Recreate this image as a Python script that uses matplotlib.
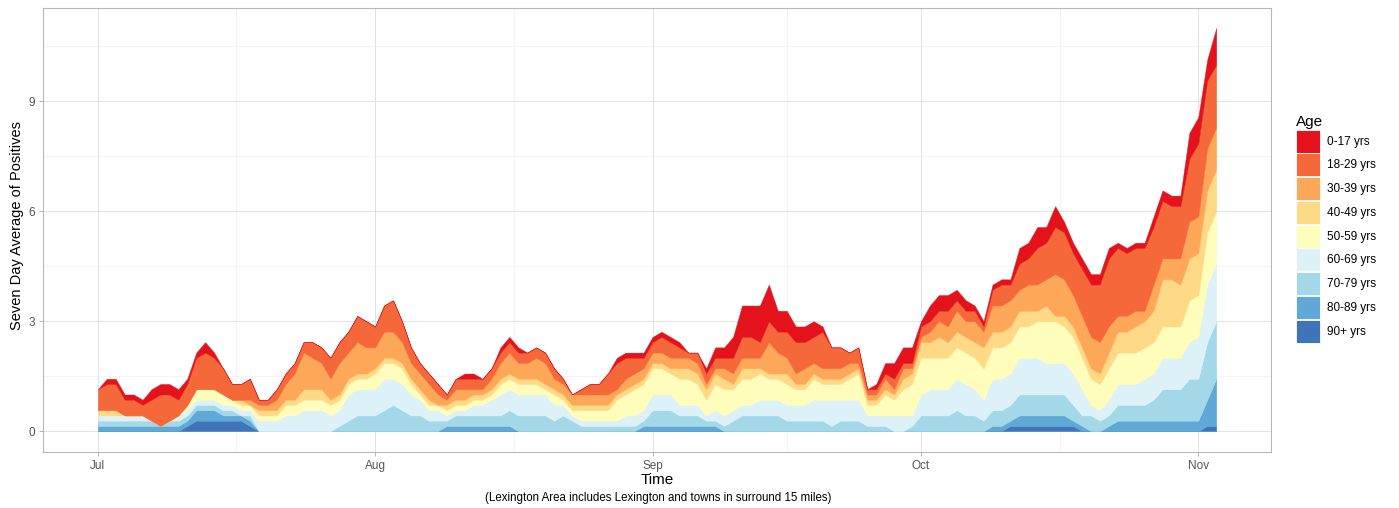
import numpy as np
import pandas as pd
import matplotlib
matplotlib.use("Agg")
import matplotlib.pyplot as plt
import matplotlib.dates as mdates
from matplotlib.patches import Patch

plt.rcParams['font.family'] = ['Liberation Sans', 'DejaVu Sans']

# ---------------- data (7-day totals of positives per age group; plotted as /7 average) -------------
start_date = "2020-07-01"
n_days = 126  # Jul 1 .. Nov 3

age_labels = ["0-17 yrs", "18-29 yrs", "30-39 yrs", "40-49 yrs", "50-59 yrs",
              "60-69 yrs", "70-79 yrs", "80-89 yrs", "90+ yrs"]

age_90p = [0,0,0,0,0,0,0,0,0,0, 1,2,2,2,2,2,2,1,0,0, 0,0,0,0,0,0,0,0,0,0,
           0,0,0,0,0,0,0,0,0,0, 0,0,0,0,0,0,0,0,0,0, 0,0,0,0,0,0,0,0,0,0,
           0,0,0,0,0,0,0,0,0,0, 0,0,0,0,0,0,0,0,0,0, 0,0,0,0,0,0,0,0,0,0,
           0,0,0,0,0,0,0,0,0,0, 0,0,1,1,1,1,1,1,1,1, 0,0,0,0,0,0,0,0,0,0,
           0,0,0,0,1,1]
age_80_89 = [1,1,1,1,1,1,1,1,1,1, 1,2,2,2,1,1,1,1,0,0, 0,0,0,0,0,0,0,0,0,0,
             0,0,0,0,0,0,0,0,0,1, 1,1,1,1,1,1,1,0,0,0, 0,0,0,0,0,0,0,0,0,0,
             0,1,1,1,1,1,1,1,1,1, 0,0,0,0,0,0,0,0,0,0, 0,0,0,0,0,0,0,0,0,0,
             0,0,0,0,0,0,0,0,0,0, 1,1,1,2,2,2,2,2,2,1, 1,0,0,1,2,2,2,2,2,2,
             2,2,2,2,5,9]
age_70_79 = [1,1,1,1,1,1,1,0,1,1, 1,1,1,1,1,1,0,1,0,0, 0,0,0,0,0,0,0,1,2,3,
             3,3,4,5,4,3,3,2,2,1, 2,2,2,2,2,2,3,3,3,3, 3,2,3,2,1,1,1,1,1,1,
             1,1,3,3,3,2,2,2,1,1, 1,2,3,3,3,3,3,2,2,2, 2,2,1,2,2,2,1,1,1,0,
             0,1,3,3,3,3,4,3,3,2, 3,3,3,4,4,4,4,4,4,3, 2,3,2,2,3,3,3,3,4,6,
             6,6,8,8,11,11]
age_60_69 = [1,1,1,1,1,1,0,0,0,1, 1,1,1,1,1,1,1,1,2,2, 2,3,3,4,4,4,3,3,5,5,
             5,5,6,5,5,4,3,2,2,1, 1,1,2,2,3,4,4,4,4,4, 4,3,2,1,1,1,1,1,1,2,
             2,2,3,3,3,2,2,2,1,2, 2,2,2,2,3,3,3,3,3,3, 4,4,5,4,4,4,2,2,2,3,
             3,2,4,5,5,5,6,6,5,4, 6,6,6,7,7,7,6,6,6,6, 5,2,2,3,4,4,4,5,5,6,
             6,6,7,8,11,11]
age_50_59 = [0,0,0,0,0,0,0,0,0,0, 1,2,2,2,2,1,1,1,1,1, 1,2,2,2,2,2,2,2,2,2,
             2,3,3,3,3,2,1,1,1,1, 1,1,1,1,1,2,2,2,2,2, 1,2,1,1,2,2,2,2,4,4,
             5,5,5,5,4,5,5,4,3,5, 5,4,5,5,5,4,4,4,3,3, 4,3,3,3,4,5,2,2,4,3,
             5,6,7,6,6,6,6,6,6,6, 6,6,6,6,6,7,8,8,7,7, 6,5,5,6,6,6,6,6,6,6,
             6,6,8,8,10,10]
age_40_49 = [1,1,1,0,0,0,0,0,0,0, 0,0,0,0,0,0,1,0,1,1, 1,1,1,2,2,2,1,1,1,1,
             1,1,1,1,1,1,1,1,0,1, 1,1,1,1,1,1,1,1,1,1, 1,1,1,1,1,1,1,1,1,1,
             1,1,1,1,1,2,2,2,2,2, 2,1,2,2,1,1,1,2,1,1, 1,1,1,1,1,1,1,1,1,1,
             2,2,3,3,4,3,3,3,3,4, 3,3,3,3,3,2,3,1,2,2, 2,2,2,3,4,4,5,5,6,9,
             9,8,8,8,8,8]
age_30_39 = [0,0,0,0,0,0,0,0,0,0, 0,0,0,0,0,0,0,1,1,1, 2,3,5,7,6,5,4,6,5,6,
             5,4,5,5,4,3,3,3,2,1, 2,2,1,1,2,3,4,3,3,4, 4,2,2,2,2,2,2,2,1,2,
             2,2,2,2,2,2,2,2,1,1, 2,2,2,2,2,6,4,3,2,3, 2,2,2,2,2,1,1,1,2,1,
             2,1,1,2,3,3,4,3,4,3, 5,5,5,4,5,5,5,8,7,6, 6,6,6,5,3,3,3,2,5,4,
             4,5,7,7,8,8]
age_18_29 = [4,5,5,3,3,2,4,6,5,3, 4,6,7,6,5,3,3,4,1,1, 2,2,2,2,3,3,4,4,4,5,
             5,4,5,6,4,3,2,2,2,1, 2,2,2,2,2,2,2,2,2,2, 2,2,1,0,1,2,2,4,5,4,
             3,2,2,3,3,2,1,2,2,2, 2,3,4,4,3,4,4,5,6,5, 5,7,4,4,2,3,1,1,1,2,
             1,1,2,2,2,3,2,2,2,1, 3,4,3,5,5,7,7,9,9,8, 9,10,11,13,13,12,12,12,11,11,
             10,10,12,14,13,12]
age_0_17 = [0,1,1,1,1,1,2,2,2,2, 1,1,2,1,0,0,0,0,0,0, 0,0,0,0,0,0,0,0,0,0,
            0,0,0,0,0,0,0,0,0,0, 0,1,1,0,0,1,1,1,0,0, 0,0,0,0,0,0,0,0,1,1,
            1,1,1,1,1,1,0,0,1,2, 2,4,6,6,7,7,4,4,3,3, 3,1,0,0,0,0,0,1,2,3,
            3,3,1,3,3,3,2,2,1,1, 1,1,1,3,3,4,3,4,2,2, 2,2,2,2,1,1,1,1,2,2,
            2,2,5,5,4,7]

colors = ["#E4121B", "#F5683A", "#FDA859", "#FED986", "#FFFDBB",
          "#DDF1F8", "#A2D8E8", "#60A8D6", "#3E74BA"]

y_ticks = [0, 3, 6, 9]

# ---------------- figure ----------------
W, H = 1399, 508
fig = plt.figure(figsize=(W / 100, H / 100), dpi=100)
ax = fig.add_axes([43 / W, 1 - 452 / H, (1271 - 43) / W, (452 - 8) / H])

dates = pd.date_range(start_date, periods=n_days, freq="D")
series_bottom_up = [age_90p, age_80_89, age_70_79, age_60_69, age_50_59,
                    age_40_49, age_30_39, age_18_29, age_0_17]
vals = [np.asarray(s, dtype=float) / 7.0 for s in series_bottom_up]
cols_bottom_up = colors[::-1]
polys = ax.stackplot(dates, *vals, colors=cols_bottom_up, linewidth=0.3)
for p, c in zip(polys, cols_bottom_up):
    p.set_edgecolor(c)

# axes limits (ggplot-like expansion)
span = (dates[-1] - dates[0]).days
pad = pd.Timedelta(days=span * 0.049)
ax.set_xlim(dates[0] - pad, dates[-1] + pad)
ax.set_ylim(-0.57, 11.55)

# ticks
majors = pd.date_range("2020-07-01", "2020-11-01", freq="MS")
ax.set_xticks(majors)
ax.xaxis.set_major_formatter(mdates.DateFormatter("%b"))
minors = [majors[i] + (majors[i + 1] - majors[i]) / 2 for i in range(len(majors) - 1)]
ax.set_xticks(minors, minor=True)
ax.set_yticks(y_ticks)
ax.set_yticks([1.5, 4.5, 7.5, 10.5], minor=True)

ax.tick_params(which="major", direction="out", length=3, width=0.7, color="#b3b3b3",
               labelcolor="#555555", labelsize=8.5, pad=2.5)
ax.tick_params(which="minor", length=0)

ax.grid(which="major", color="#e2e2e2", linewidth=0.7)
ax.grid(which="minor", color="#f0f0f0", linewidth=0.5)
ax.set_axisbelow(True)
for sp in ax.spines.values():
    sp.set_color("#b8b8b8")
    sp.set_linewidth(0.8)

# titles
fig.text(657 / W, 1 - 480 / H, "Time", ha="center", va="center", fontsize=11, color="black")
fig.text(17 / W, 1 - 225 / H, "Seven Day Average of Positives", ha="center", va="center",
         rotation=90, fontsize=10.5, color="black")
fig.text(658 / W, 1 - 498 / H, "(Lexington Area includes Lexington and towns in surround 15 miles)",
         ha="center", va="center", fontsize=8.3, color="black")

# legend
handles = [Patch(facecolor=c, edgecolor="white", linewidth=0.6) for c in colors]
leg = fig.legend(handles, age_labels, title="Age", loc="upper left",
                 bbox_to_anchor=(1296 / W, 1 - 115 / H), frameon=False,
                 fontsize=8.5, title_fontsize=11, handlelength=2.0, handleheight=2.64,
                 labelspacing=0.05, handletextpad=0.65, borderpad=0, borderaxespad=0)
leg._legend_box.align = "left"

fig.savefig("out.png", dpi=100)
